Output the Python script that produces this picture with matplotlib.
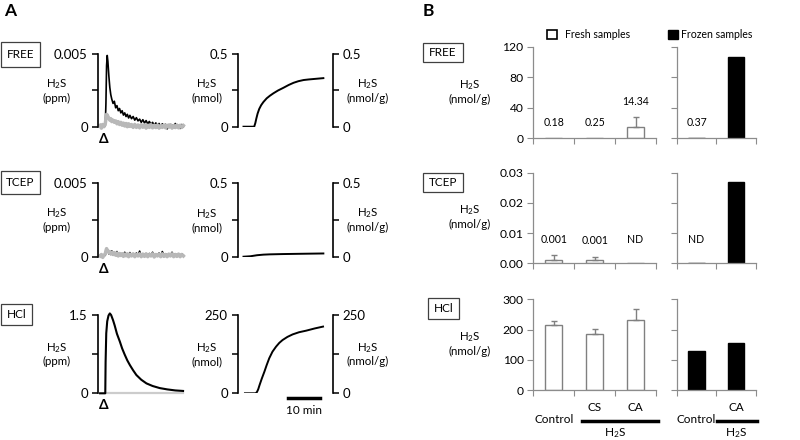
import numpy as np
import matplotlib
matplotlib.use('Agg')
import matplotlib.pyplot as plt
from matplotlib.patches import Rectangle
from matplotlib.lines import Line2D
from matplotlib import transforms

plt.rcParams['font.family'] = ['Lato', 'DejaVu Sans']
plt.rcParams['mathtext.default'] = 'regular'

W, H = 800, 440

# ---------------- panel A data (time in min) ----------------
inj_time = 2.0
t_trace = [0.8, 1.2, 1.6, 2.0, 2.4, 2.6, 2.8, 3.0, 3.2, 3.5, 3.8, 4.1, 4.4, 4.8, 5.2,
           5.6, 6.0, 6.4, 6.8, 7.2, 7.6, 8.0, 8.4, 8.8, 9.2, 9.6, 10.0,
           10.5, 11.0, 11.5, 12.0, 12.5, 13.0, 13.5, 14.0, 14.5, 15.0, 15.5, 16.0,
           16.5, 17.0, 17.5, 18.0, 18.5, 19.0, 19.5, 20.0, 20.5, 21.0, 21.5, 22.0,
           22.5, 23.0, 23.5, 24.0, 24.5, 25.0, 25.5, 26.0, 26.5]
# H2S in 0.001 ppm
free_black = [0.05, 0.12, 0.0, 0.1, 0.05,
              1.6, 4.2, 4.9, 4.5, 3.5,
              2.7, 2.2, 1.9, 1.6, 1.75,
              1.3, 1.45, 1.1, 1.25, 0.95,
              1.1, 0.8, 0.95, 0.7, 0.85,
              0.6, 0.78,
              0.55, 0.7, 0.45, 0.62, 0.4,
              0.52, 0.3, 0.48, 0.25, 0.42,
              0.2, 0.36, 0.15, 0.3, 0.08,
              0.26, 0.05, 0.22, -0.05, 0.2,
              0.0, 0.16, -0.15, 0.15, 0.0,
              0.12, -0.1, 0.22, -0.05, 0.1,
              -0.12, 0.15, 0.0]
free_gray = [0.1, -0.1, 0.15, 0.0, 0.2,
             0.55, 0.85, 0.8, 0.7, 0.6,
             0.45, 0.55, 0.35, 0.45, 0.3,
             0.4, 0.2, 0.35, 0.15, 0.3,
             0.1, 0.25, 0.05, 0.22, 0.0,
             0.2, 0.02,
             0.15, -0.05, 0.16, -0.05, 0.12,
             -0.08, 0.14, -0.04, 0.12, -0.1,
             0.1, -0.05, 0.14, -0.08, 0.1,
             -0.06, 0.12, -0.1, 0.08, -0.05,
             0.12, -0.08, 0.1, -0.04, 0.14,
             -0.1, 0.08, -0.06, 0.12, -0.08,
             0.1, -0.05, 0.08]
tcep_black = [0.1, 0.0, 0.12, 0.05, 0.1,
              0.3, 0.5, 0.35, 0.45, 0.2,
              0.3, 0.15, 0.4, 0.1, 0.25,
              0.12, 0.35, 0.1, 0.2, 0.05,
              0.22, 0.1, 0.3, 0.05, 0.18,
              0.08, 0.28,
              0.1, 0.2, 0.05, 0.25, 0.1,
              0.38, 0.05, 0.2, 0.1, 0.15,
              0.05, 0.22, 0.1, 0.3, 0.05,
              0.18, 0.1, 0.25, 0.0, 0.35,
              0.1, 0.2, 0.05, 0.15, 0.1,
              0.3, 0.05, 0.2, 0.1, 0.15,
              0.05, 0.2, 0.1]
tcep_gray = [0.05, 0.15, -0.05, 0.1, 0.2,
             0.4, 0.55, 0.45, 0.4, 0.3,
             0.35, 0.2, 0.3, 0.15, 0.28,
             0.1, 0.25, 0.05, 0.22, 0.08,
             0.2, 0.02, 0.18, 0.06, 0.2,
             0.0, 0.18,
             0.05, 0.2, 0.0, 0.15, 0.05,
             0.2, 0.0, 0.18, 0.02, 0.2,
             0.0, 0.15, 0.05, 0.2, -0.02,
             0.15, 0.05, 0.18, 0.0, 0.2,
             0.02, 0.15, 0.0, 0.18, 0.05,
             0.2, 0.0, 0.15, 0.02, 0.18,
             0.0, 0.15, 0.05]
# HCl, ppm
t_hcl = [0.8, 2.4, 2.5, 2.7, 3.0, 3.4, 3.8, 4.2, 4.8, 5.3, 6.0, 6.9, 7.6, 8.4, 9.2,
         10.0, 11.0, 12.0, 13.5, 15.1, 17.0, 19.2, 21.5, 24.0, 26.4]
hcl_black = [0.0, 0.0, 0.6, 1.15, 1.38, 1.49, 1.53, 1.5, 1.4, 1.3, 1.14, 0.99, 0.86,
             0.74, 0.63, 0.54, 0.44, 0.35, 0.26, 0.19, 0.14, 0.1, 0.075, 0.055, 0.045]
t_hcl_gray = [2.4, 26.4]
hcl_gray = [0.0, 0.0]

# cumulative amounts (nmol)
t_free_cum = [1.85, 5.15, 5.5, 5.8, 6.2, 6.7, 7.3, 8.0, 9.0, 10.0, 11.1, 12.5, 14.2,
              15.8, 17.3, 18.8, 20.4, 22.0, 23.5, 25.0, 26.5]
free_cum = [0, 0, 0.025, 0.055, 0.09, 0.122, 0.148, 0.17, 0.195, 0.213, 0.23, 0.249,
            0.268, 0.287, 0.302, 0.313, 0.321, 0.325, 0.328, 0.331, 0.334]
t_tcep_cum = [1.85, 4, 6, 8, 10, 14, 20, 26.5]
tcep_cum = [0, 0.003, 0.01, 0.014, 0.016, 0.018, 0.02, 0.022]
t_hcl_cum = [2.3, 5.6, 6.0, 6.4, 6.8, 7.5, 8.3, 9.0, 9.8, 10.8, 11.9, 12.9, 13.9,
             15.4, 17.0, 19.0, 21.2, 23.8, 26.4]
hcl_cum = [0, 0, 4, 13, 26, 47, 69, 90, 112, 133, 149, 161, 170, 180, 188, 195, 200,
           207, 213]

scale_bar = (15.6, 25.6)

# ---------------- panel B data (nmol/g) ----------------
fresh_cats = ['Control', 'CS', 'CA']
frozen_cats = ['Control', 'CA']
fresh_free = [0.18, 0.25, 14.34]
fresh_free_err = [0, 0, 13.3]
frozen_free = [0.37, 106]
fresh_tcep = [0.001, 0.001, 0]
fresh_tcep_err = [0.0016, 0.0012, 0]
frozen_tcep = [0, 0.027]
fresh_hcl = [215, 187, 232]
fresh_hcl_err = [13, 14, 35]
frozen_hcl = [129, 156]
fresh_free_lab = ['0.18', '0.25', '14.34']
frozen_free_lab = ['0.37', '']
fresh_tcep_lab = ['0.001', '0.001', 'ND']
frozen_tcep_lab = ['ND', '']

fig = plt.figure(figsize=(8, 4.4), dpi=100)


def ax_px(x0, y0, x1, y1):
    return fig.add_axes([x0 / W, 1 - y1 / H, (x1 - x0) / W, (y1 - y0) / H])


def ftext(x, y, s, **kw):
    kw.setdefault('ha', 'center')
    kw.setdefault('va', 'center')
    return fig.text(x / W, 1 - y / H, s, **kw)


def label_box(x0, y0, x1, y1, s):
    fig.add_artist(Rectangle((x0 / W, 1 - y1 / H), (x1 - x0) / W, (y1 - y0) / H,
                             transform=fig.transFigure, fill=False, ec='#404040', lw=0.9))
    ftext((x0 + x1) / 2, (y0 + y1) / 2, s, fontsize=8.5)


def below(ax, dy):
    base = transforms.blended_transform_factory(ax.transData, ax.transAxes)
    return transforms.offset_copy(base, fig=fig, y=-dy, units='dots')


ftext(10, 11, 'A', fontsize=12.5, fontweight='bold')
ftext(428, 11, 'B', fontsize=12.5, fontweight='bold')

LAB = 8.3

# ---------------- panel A ----------------
a_rows = [(54, 126.7), (183.3, 256.7), (315, 393.3)]
a_names = ['FREE', 'TCEP', 'HCl']
a_boxes = [(1, 41.7, 40, 66.7), (1, 171, 40, 194), (1, 304, 32, 325)]
conc_max = [0.005, 0.005, 1.5]
conc_lab = ['0.005', '0.005', '1.5']
amt_max = [0.5, 0.5, 250]
amt_lab = ['0.5', '0.5', '250']
traces = [
    [(t_trace, np.array(free_black) * 1e-3, 'black', 1.2),
     (t_trace, np.array(free_gray) * 1e-3, '#b8b8b8', 2.5)],
    [(t_trace, np.array(tcep_black) * 1e-3, 'black', 1.2),
     (t_trace, np.array(tcep_gray) * 1e-3, '#b8b8b8', 2.5)],
    [(t_hcl_gray, hcl_gray, '#cccccc', 1.6),
     (t_hcl, hcl_black, 'black', 1.5)],
]
cums = [(t_free_cum, free_cum), (t_tcep_cum, tcep_cum), (t_hcl_cum, hcl_cum)]


def style_a(ax, side='left'):
    for s in ['top', 'right', 'bottom', 'left']:
        ax.spines[s].set_visible(s == side)
    ax.spines[side].set_linewidth(1.2)
    ax.set_xticks([])
    ax.tick_params(axis='y', direction='out', length=4, width=1.1, labelsize=9.5, pad=3)


for i, (y0, y1) in enumerate(a_rows):
    label_box(*a_boxes[i], a_names[i])
    mid = (y0 + y1) / 2

    ax = ax_px(97.5, y0, 185, y1)
    for t, v, c, lw in traces[i]:
        ax.plot(t, v, color=c, lw=lw, clip_on=False)
    ax.set_xlim(0, 27)
    ax.set_ylim(0, conc_max[i])
    ax.set_yticks([0, conc_max[i] / 2, conc_max[i]])
    ax.set_yticklabels(['0', '', conc_lab[i]])
    style_a(ax)
    ax.text(inj_time, 0, '\u0394', transform=below(ax, 12), ha='center', va='center',
            fontsize=10, fontweight='bold')
    ftext(57, mid, 'H$_2$S\n(ppm)', fontsize=LAB, linespacing=1.2)

    ax = ax_px(237.5, y0, 333, y1)
    ax.plot(cums[i][0], cums[i][1], color='black', lw=1.4)
    ax.set_xlim(0, (333 - 237.5) / 3.24)
    ax.set_ylim(0, amt_max[i])
    ax.set_yticks([0, amt_max[i] / 2, amt_max[i]])
    ax.set_yticklabels(['0', '', amt_lab[i]])
    style_a(ax)
    ax2 = ax.twinx()
    ax2.set_ylim(0, amt_max[i])
    ax2.set_yticks([0, amt_max[i] / 2, amt_max[i]])
    ax2.set_yticklabels(['0', '', amt_lab[i]])
    style_a(ax2, 'right')
    ftext(207, mid, 'H$_2$S\n(nmol)', fontsize=LAB, linespacing=1.2)
    ftext(368, mid, 'H$_2$S\n(nmol/g)', fontsize=LAB, linespacing=1.2)

    if i == 2:
        ax.add_line(Line2D(scale_bar, [0, 0], color='black', lw=2.5,
                           transform=below(ax, 4.7), clip_on=False))
        ax.text(np.mean(scale_bar), 0, '10 min', transform=below(ax, 17.5),
                ha='center', va='center', fontsize=8.5)

# ---------------- panel B ----------------
b_rows = [(46.7, 138.3), (172.7, 263.3), (299.3, 390.3)]
b_boxes = [(422.7, 42.7, 462.7, 61.7), (422.7, 172.7, 462.7, 192.3), (427.7, 298.3, 459.3, 319)]
b_max = [120, 0.03, 300]
b_ticks = [[0, 40, 80, 120], [0, 0.01, 0.02, 0.03], [0, 100, 200, 300]]
b_fmt = ['{:.0f}', '{:.2f}', '{:.0f}']
b_fresh = [(fresh_free, fresh_free_err, fresh_free_lab),
           (fresh_tcep, fresh_tcep_err, fresh_tcep_lab),
           (fresh_hcl, fresh_hcl_err, None)]
b_frozen = [(frozen_free, frozen_free_lab), (frozen_tcep, frozen_tcep_lab), (frozen_hcl, None)]
axis_gray = '#8c8c8c'


def style_b(ax, n, i, labels=True):
    ax.spines[['top', 'right']].set_visible(False)
    for s in ['left', 'bottom']:
        ax.spines[s].set_color(axis_gray)
        ax.spines[s].set_linewidth(0.9)
    ax.set_xlim(-0.5, n - 0.5)
    ax.set_ylim(0, b_max[i])
    ax.set_xticks(np.arange(n + 1) - 0.5)
    ax.set_xticklabels([])
    ax.set_yticks(b_ticks[i])
    if labels:
        ax.set_yticklabels([b_fmt[i].format(v) for v in b_ticks[i]])
    else:
        ax.set_yticklabels([])
    ax.tick_params(axis='both', direction='out', length=4, width=0.8, color=axis_gray,
                   labelsize=8.7, pad=3)


for i, (y0, y1) in enumerate(b_rows):
    label_box(*b_boxes[i], ['FREE', 'TCEP', 'HCl'][i])
    ftext(470, (y0 + y1) / 2 - 1, 'H$_2$S\n(nmol/g)', fontsize=LAB, linespacing=1.2)

    vals, errs, labs = b_fresh[i]
    ax = ax_px(533.3, y0, 656, y1)
    x = np.arange(len(vals))
    ax.bar(x, vals, width=0.42, color='white', edgecolor='#808080', lw=1)
    idx = [k for k in x if errs[k] > 0]
    ax.errorbar(idx, [vals[k] for k in idx], yerr=[[0] * len(idx), [errs[k] for k in idx]],
                fmt='none', ecolor='#808080', elinewidth=1, capsize=2, capthick=1)
    style_b(ax, len(vals), i)
    tops = [v + e for v, e in zip(vals, errs)]
    if labs:
        for k, s in enumerate(labs):
            top = max(tops) if s == 'ND' else tops[k]
            ax.annotate(s, (k, top), xytext=(0, 16), textcoords='offset pixels',
                        ha='center', va='center', fontsize=7.6)
    if i == 2:
        ax.text(0, 0, fresh_cats[0], transform=below(ax, 28.7), ha='center', va='center', fontsize=8.5)
        for k in (1, 2):
            ax.text(k, 0, fresh_cats[k], transform=below(ax, 16.7), ha='center', va='center', fontsize=8.5)
        ax.add_line(Line2D([0.69, 2.55], [0, 0], color='black', lw=2.5,
                           transform=below(ax, 30.7), clip_on=False))
        ax.text(1.5, 0, 'H$_2$S', transform=below(ax, 42.7), ha='center', va='center', fontsize=8.5)

    fvals, flabs = b_frozen[i]
    axf = ax_px(676.7, y0, 756, y1)
    xf = np.arange(len(fvals))
    axf.bar(xf, fvals, width=0.41, color='black', edgecolor='black', lw=1)
    style_b(axf, len(fvals), i, labels=False)
    if flabs:
        for k, s in enumerate(flabs):
            if s:
                top = max(tops) if s == 'ND' else fvals[k]
                axf.annotate(s, (k, top), xytext=(0, 16), textcoords='offset pixels',
                             ha='center', va='center', fontsize=7.6)
    if i == 2:
        axf.text(0, 0, frozen_cats[0], transform=below(axf, 28.7), ha='center', va='center', fontsize=8.5)
        axf.text(1, 0, frozen_cats[1], transform=below(axf, 16.7), ha='center', va='center', fontsize=8.5)
        axf.add_line(Line2D([0.52, 1.53], [0, 0], color='black', lw=2.5,
                            transform=below(axf, 30.7), clip_on=False))
        axf.text(1, 0, 'H$_2$S', transform=below(axf, 42.7), ha='center', va='center', fontsize=8.5)

# legend
fig.add_artist(Rectangle((547 / W, 1 - 39.3 / H), 9.5 / W, 9.3 / H, transform=fig.transFigure,
                         facecolor='white', edgecolor='black', lw=1.2))
ftext(565, 34.5, 'Fresh samples', ha='left', fontsize=7.6)
fig.add_artist(Rectangle((668 / W, 1 - 39.3 / H), 9.5 / W, 9.3 / H, transform=fig.transFigure,
                         facecolor='black', edgecolor='black', lw=1))
ftext(681, 34.5, 'Frozen samples', ha='left', fontsize=7.6)

fig.savefig('out.png', dpi=100)
